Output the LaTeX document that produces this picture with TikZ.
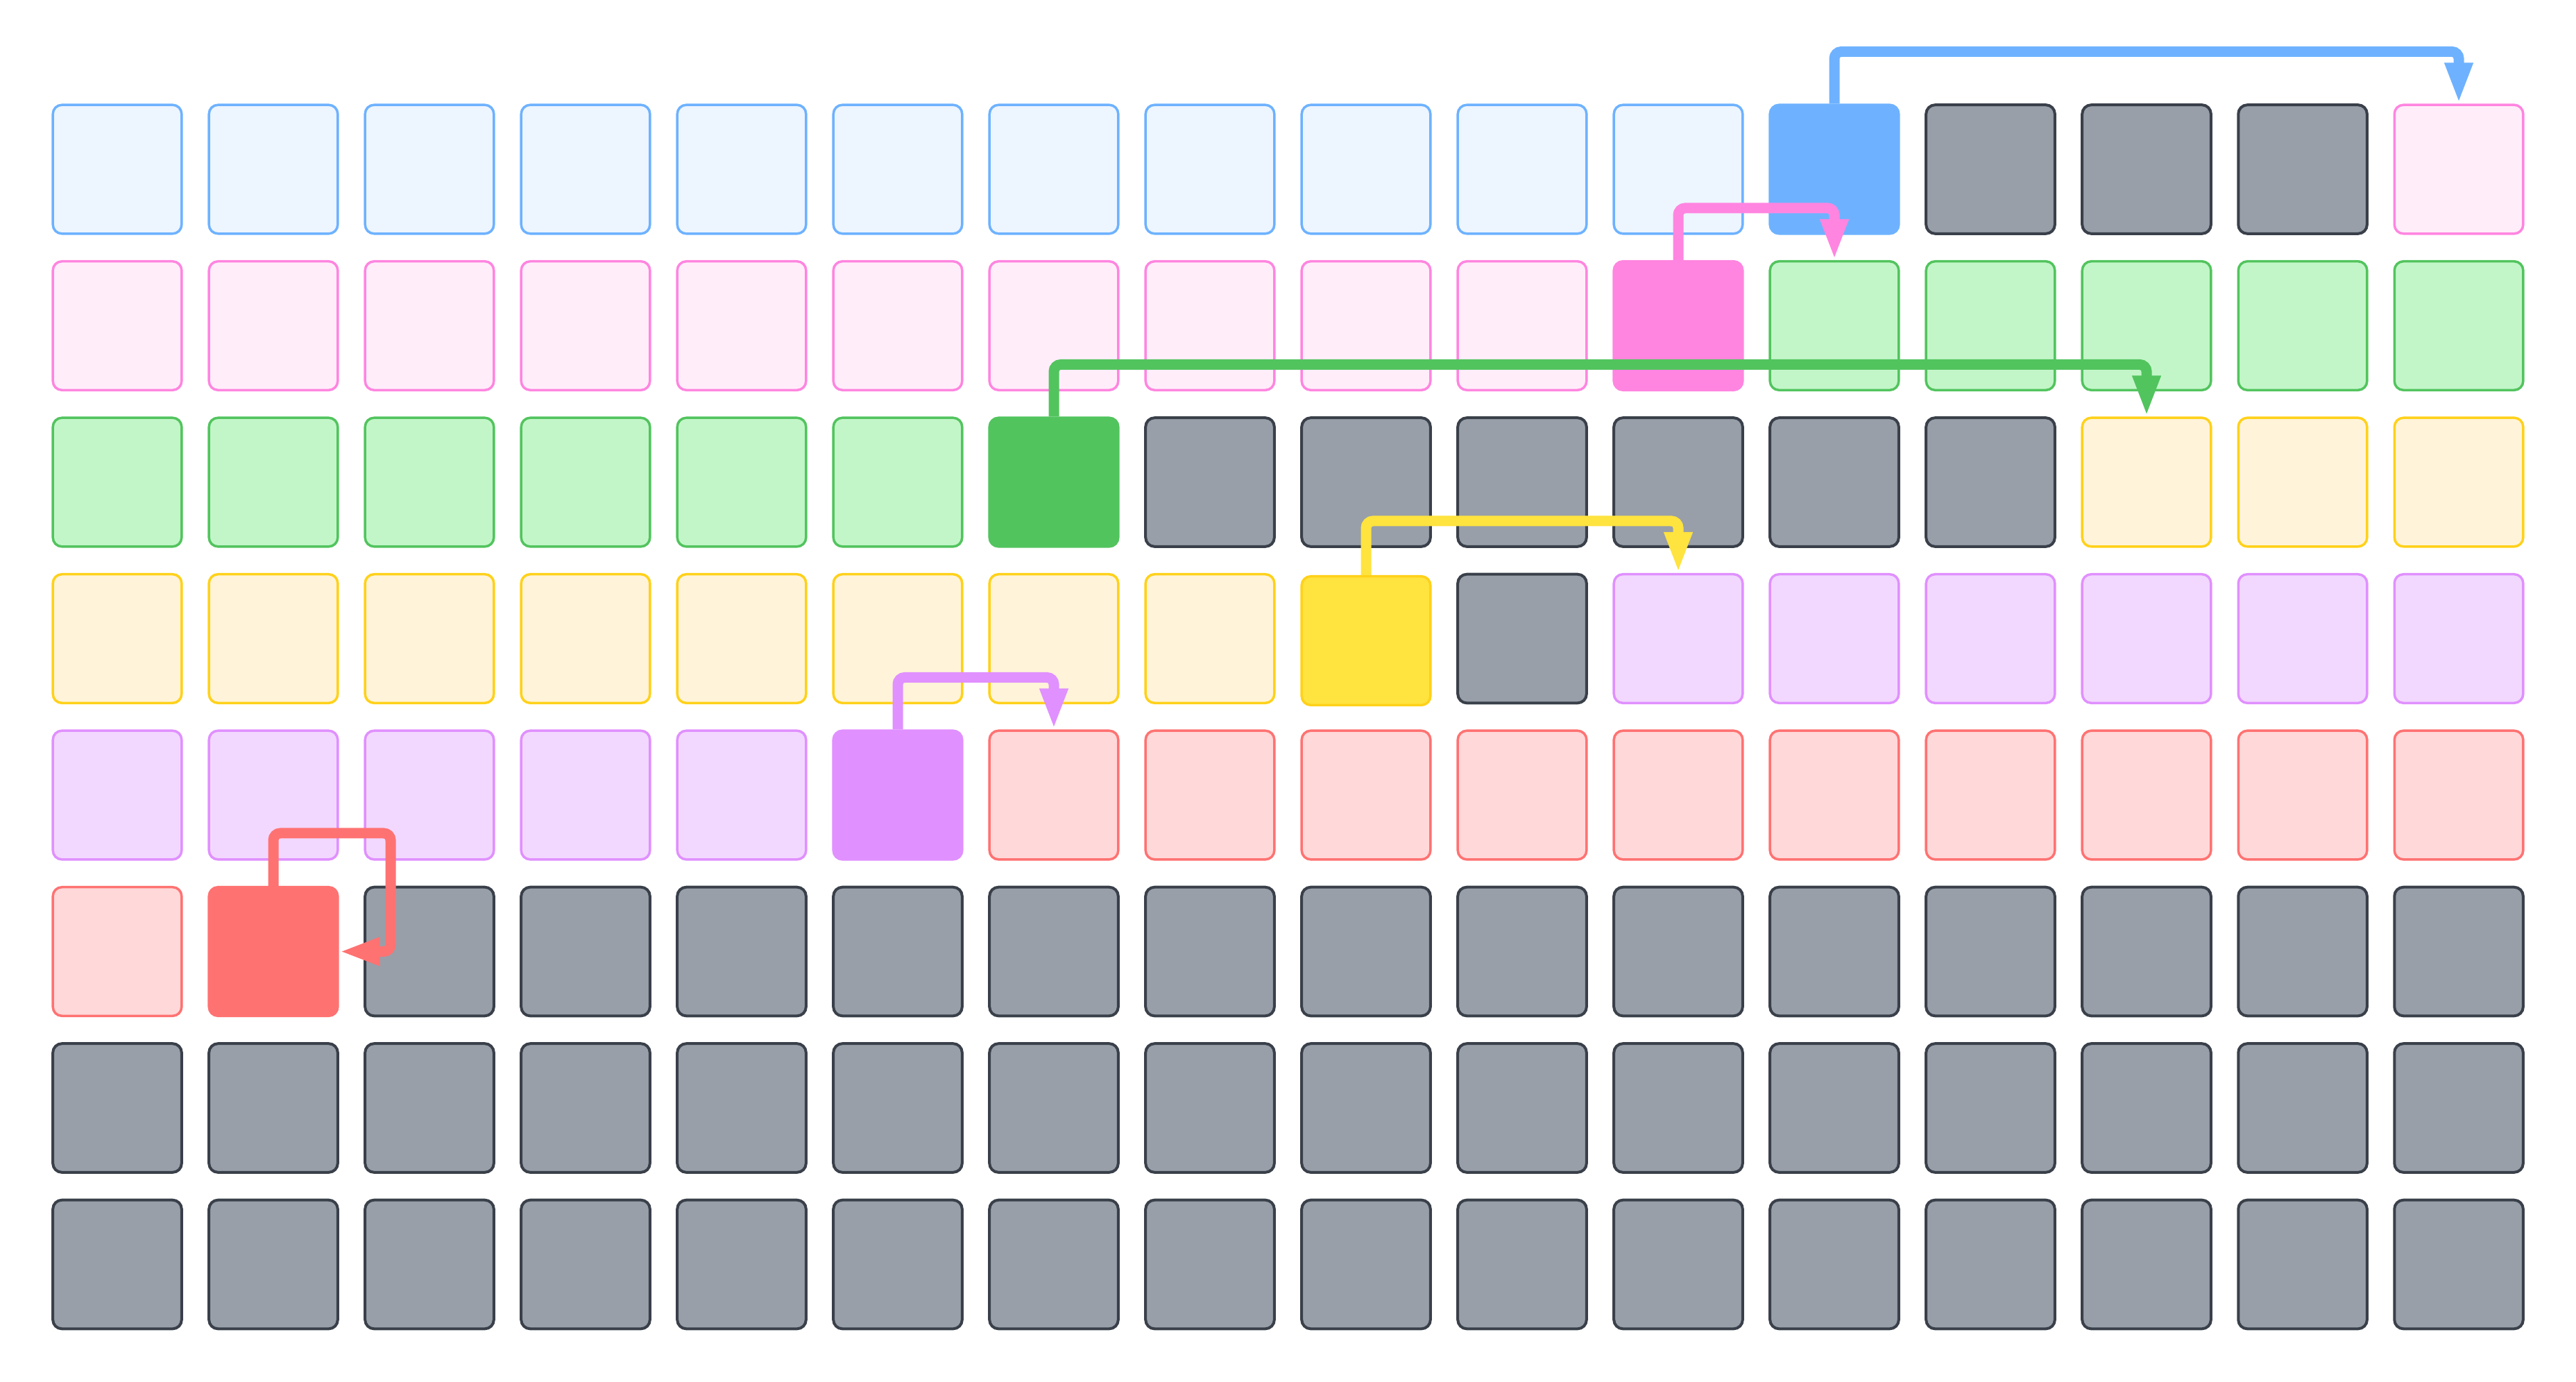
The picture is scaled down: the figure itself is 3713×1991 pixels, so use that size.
\documentclass[tikz,border=0pt]{standalone}
\usetikzlibrary{arrows.meta}
\definecolor{blueL}{HTML}{EDF5FF}
\definecolor{blueD}{HTML}{6EB2FF}
\definecolor{pinkL}{HTML}{FFEEFA}
\definecolor{pinkD}{HTML}{FF85E0}
\definecolor{greenL}{HTML}{C2F6C8}
\definecolor{greenD}{HTML}{52C45E}
\definecolor{yellowL}{HTML}{FFF3D9}
\definecolor{yellowS}{HTML}{FFD11A}
\definecolor{yellowD}{HTML}{FFE33F}
\definecolor{purpleL}{HTML}{F2D8FE}
\definecolor{purpleD}{HTML}{E090FF}
\definecolor{redL}{HTML}{FFD8D9}
\definecolor{redD}{HTML}{FF7272}
\definecolor{grayF}{HTML}{989FA9}
\definecolor{grayD}{HTML}{3A404A}
\tikzset{
  cell/.style={rectangle, minimum size=1.855cm, inner sep=0pt, rounded corners=0.13cm, line width=0.035cm},
  bl/.style={cell, fill=blueL, draw=blueD},
  B/.style={cell, fill=blueD, draw=blueD},
  pl/.style={cell, fill=pinkL, draw=pinkD},
  P/.style={cell, fill=pinkD, draw=pinkD},
  gl/.style={cell, fill=greenL, draw=greenD},
  G/.style={cell, fill=greenD, draw=greenD},
  yl/.style={cell, fill=yellowL, draw=yellowS},
  Y/.style={cell, fill=yellowD, draw=yellowS, yshift=-0.03cm},
  ul/.style={cell, fill=purpleL, draw=purpleD},
  U/.style={cell, fill=purpleD, draw=purpleD},
  rl/.style={cell, fill=redL, draw=redD},
  R/.style={cell, fill=redD, draw=redD},
  gy/.style={cell, fill=grayF, draw=grayD, line width=0.04cm},
  conn/.style={line width=0.15cm, rounded corners=0.1cm, -{Triangle[length=0.59cm,width=0.37cm]}}
}
\begin{document}
\begin{tikzpicture}[x=0.01cm,y=-0.01cm]
\useasboundingbox (0,0) rectangle (3713,1991);
\foreach \s [count=\c from 0] in {bl,bl,bl,bl,bl,bl,bl,bl,bl,bl,bl,B,gy,gy,gy,pl}
  \node[\s] (r0c\c) at (169+225*\c, 244) {};
\foreach \s [count=\c from 0] in {pl,pl,pl,pl,pl,pl,pl,pl,pl,pl,P,gl,gl,gl,gl,gl}
  \node[\s] (r1c\c) at (169+225*\c, 469.5) {};
\foreach \s [count=\c from 0] in {gl,gl,gl,gl,gl,gl,G,gy,gy,gy,gy,gy,gy,yl,yl,yl}
  \node[\s] (r2c\c) at (169+225*\c, 695) {};
\foreach \s [count=\c from 0] in {yl,yl,yl,yl,yl,yl,yl,yl,Y,gy,ul,ul,ul,ul,ul,ul}
  \node[\s] (r3c\c) at (169+225*\c, 920.5) {};
\foreach \s [count=\c from 0] in {ul,ul,ul,ul,ul,U,rl,rl,rl,rl,rl,rl,rl,rl,rl,rl}
  \node[\s] (r4c\c) at (169+225*\c, 1146) {};
\foreach \s [count=\c from 0] in {rl,R,gy,gy,gy,gy,gy,gy,gy,gy,gy,gy,gy,gy,gy,gy}
  \node[\s] (r5c\c) at (169+225*\c, 1371.5) {};
\foreach \c in {0,...,15}
  \node[gy] (r6c\c) at (169+225*\c, 1597) {};
\foreach \c in {0,...,15}
  \node[gy] (r7c\c) at (169+225*\c, 1822.5) {};
% connectors
\draw[conn, blueD] (r0c11.north) -- ++(0,-75) -| (r0c15.north);
\draw[conn, pinkD] (r1c10.north) -- ++(0,-75) -| (r1c11.north);
\draw[conn, greenD] (r2c6.north) -- ++(0,-75) -| (r2c13.north);
\draw[conn, yellowD] (r3c8.north) -- ++(0,-78) -| (r3c10.north);
\draw[conn, purpleD] (r4c5.north) -- ++(0,-75) -| (r4c6.north);
\draw[conn, redD] (r5c1.north) -- ++(0,-76) -- ++(169,0) |- (r5c1.east);
\end{tikzpicture}
\end{document}
